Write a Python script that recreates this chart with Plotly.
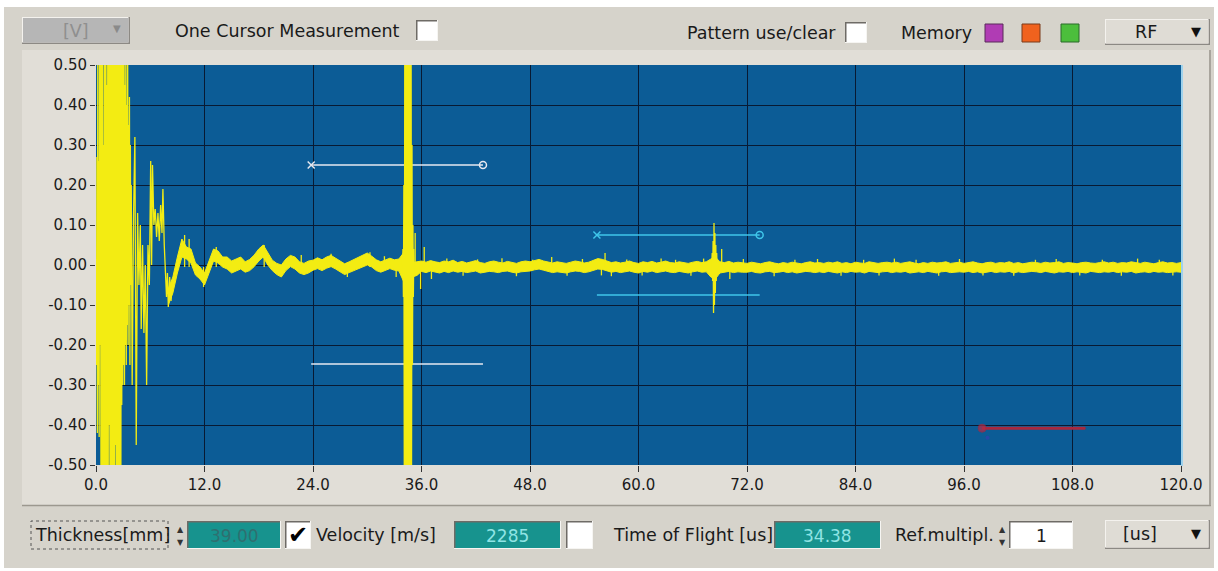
import plotly.graph_objects as go

W, H = 1218, 571
ML, MR, MT, MB = 96, 37, 65, 106

# ---------------- axis ticks ----------------
x_tick_vals = [0, 12, 24, 36, 48, 60, 72, 84, 96, 108, 120]
x_tick_text = ["0.0", "12.0", "24.0", "36.0", "48.0", "60.0", "72.0", "84.0", "96.0", "108.0", "120.0"]
y_tick_vals = [0.5, 0.4, 0.3, 0.2, 0.1, 0.0, -0.1, -0.2, -0.3, -0.4, -0.5]
y_tick_text = ["0.50", "0.40", "0.30", "0.20", "0.10", "0.00", "-0.10", "-0.20", "-0.30", "-0.40", "-0.50"]

# ---------------- waveform ----------------
# initial burst, samples every 0.05 us from 0
burst_start, burst_step = 0.0, 0.05
burst_y = [0.0, -0.25, 0.27, -0.42, 0.6, -0.3, 0.26, -0.43, 0.6, -0.2,
           0.6, -0.6, 0.5, -0.6, 0.6, -0.6, 0.3, -0.6, 0.6, -0.5,
           0.6, -0.6, 0.6, -0.6, 0.45, -0.6, 0.6, -0.6, 0.6, -0.4,
           0.6, -0.6, 0.6, -0.6, 0.5, -0.6, 0.6, -0.55, 0.6, -0.6,
           0.6, -0.6, 0.6, -0.45, 0.6, -0.6, 0.6, -0.6, 0.55, -0.6,
           0.6, -0.6, 0.6, -0.5, 0.6, -0.6, 0.6, -0.35, 0.6, -0.3,
           0.6, -0.25, 0.6, -0.3, 0.45, -0.2, 0.6, -0.25, 0.4, -0.15,
           0.6, -0.2, 0.35, -0.1, 0.42, -0.25, 0.3, -0.05, 0.2, -0.1]
# ringing after the burst
tail_x = [4.0, 4.15, 4.3, 4.45, 4.6, 4.75, 4.9, 5.0, 5.15, 5.3, 5.45, 5.6, 5.75, 5.9, 6.05, 6.15,
          6.25, 6.4, 6.55, 6.7, 6.85, 7.0, 7.15, 7.3, 7.4, 7.55, 7.7, 7.8, 7.9, 8.0, 8.15, 8.3, 8.45]
tail_y = [-0.30, 0.12, 0.32, -0.45, 0.13, -0.05, 0.10, -0.16, 0.05, -0.17, 0.0, -0.30, 0.05, -0.05, 0.26, 0.0,
          0.25, 0.10, 0.14, 0.07, 0.13, 0.06, 0.15, 0.08, 0.19, 0.05, -0.02, -0.08, -0.02, -0.105, -0.03, -0.09, -0.04]
# first back-wall echo
echo1_start, echo1_step = 33.9, 0.05
echo1_y = [0.0, 0.04, -0.08, 0.2, -0.6, 0.6, -0.6, 0.6, -0.6, 0.6, -0.6, 0.6, -0.6, 0.6,
           -0.6, 0.6, -0.6, 0.6, -0.6, 0.6, -0.5, 0.3, -0.25, 0.1, -0.08, 0.04, -0.02]
# second echo
echo2_start, echo2_step = 68.1, 0.05
echo2_y = [0.0, 0.03, -0.04, 0.06, -0.12, 0.105, -0.1, 0.08, -0.07, 0.05, -0.04, 0.03, -0.02, 0.01]
# small noise spikes
spike_x = [9.8, 10.3, 11.9, 13.3, 18.6, 22.7, 26.0, 27.8, 30.3, 31.9, 33.2, 35.3, 35.9, 36.3, 37.1,
           38.8, 40.6, 42.2, 44.9, 46.5, 48.3, 50.4, 52.1, 53.8, 55.9, 56.3, 57.0, 58.7, 60.4, 62.5,
           64.1, 65.8, 67.2, 69.2, 70.1, 71.6, 75.0, 77.3, 79.8, 82.4, 84.9, 86.6, 88.3, 90.7, 93.2,
           95.5, 98.1, 101.5, 103.9, 106.2, 108.8, 111.3, 113.4, 115.2, 117.6, 119.1]
spike_y = [0.075, 0.065, -0.055, 0.045, 0.05, 0.025, 0.028, -0.03, 0.032, 0.022, -0.03, 0.08, -0.06, 0.045, -0.035,
           0.016, -0.027, 0.014, 0.017, -0.028, 0.013, 0.02, -0.027, 0.015, -0.026, 0.03, -0.028, 0.014, -0.026, 0.016,
           0.013, -0.027, 0.016, 0.04, -0.035, 0.015, -0.028, 0.013, 0.015, -0.027, 0.013, -0.026, 0.016, 0.013, -0.027,
           0.015, -0.026, -0.027, 0.013, 0.015, -0.026, 0.013, -0.027, 0.016, 0.013, -0.026]

# noise band envelope, samples every 0.5 us from 8
band_start, band_step = 8.0, 0.5
band_upper = [
    -0.06, -0.03, 0.02, 0.065, 0.045, 0.04, 0.005, -0.005, -0.02, 0.01, 0.04, 0.035, 0.02, 0.02, 0.01, 0.015,
    0.02, 0.008, 0.014, 0.025, 0.04, 0.05, 0.03, 0.012, 0.004, 0.0, 0.015, 0.024, 0.02, 0.008, 0.004, 0.01,
    0.012, 0.018, 0.013, 0.02, 0.024, 0.017, 0.008, 0.003, 0.008, 0.013, 0.019, 0.024, 0.03, 0.022, 0.013, 0.008,
    0.012, 0.017, 0.013, 0.015, 0.03, 0.04, 0.006, 0.008, 0.01, 0.007, 0.011, 0.008, 0.006, 0.01, 0.008, 0.012,
    0.006, 0.009, 0.005, 0.008, 0.011, 0.006, 0.004, 0.008, 0.01, 0.007, 0.005, 0.009, 0.006, 0.004, 0.008, 0.01,
    0.008, 0.011, 0.014, 0.01, 0.007, 0.005, 0.008, 0.006, 0.004, 0.007, 0.01, 0.008, 0.005, 0.007, 0.011, 0.016,
    0.014, 0.009, 0.006, 0.008, 0.005, 0.007, 0.01, 0.006, 0.004, 0.008, 0.006, 0.009, 0.005, 0.007, 0.01, 0.006,
    0.005, 0.008, 0.006, 0.004, 0.007, 0.009, 0.006, 0.008, 0.015, 0.02, 0.008, 0.006, 0.009, 0.005, 0.007, 0.006,
    0.004, 0.007, 0.005, 0.003, 0.006, 0.008, 0.005, 0.003, 0.006, 0.004, 0.007, 0.005, 0.003, 0.006, 0.008, 0.005,
    0.006, 0.004, 0.007, 0.005, 0.008, 0.004, 0.006, 0.003, 0.007, 0.005, 0.004, 0.008, 0.006, 0.004, 0.006, 0.007,
    0.005, 0.007, 0.004, 0.006, 0.008, 0.005, 0.003, 0.006, 0.004, 0.007, 0.005, 0.006, 0.008, 0.004, 0.005, 0.007,
    0.004, 0.006, 0.008, 0.005, 0.003, 0.006, 0.007, 0.004, 0.006, 0.005, 0.008, 0.004, 0.006, 0.003, 0.005, 0.007,
    0.006, 0.004, 0.007, 0.005, 0.006, 0.008, 0.004, 0.006, 0.005, 0.003, 0.006, 0.007, 0.005, 0.004, 0.006, 0.008,
    0.005, 0.007, 0.004, 0.006, 0.005, 0.008, 0.006, 0.004, 0.007, 0.005, 0.003, 0.006, 0.008, 0.005, 0.006, 0.004,
    0.006]
band_lower = [
    -0.1, -0.07, -0.02, 0.02, 0.015, 0.005, -0.025, -0.035, -0.05, -0.02, 0.01, 0.005, -0.005, -0.01, -0.02, -0.015,
    -0.01, -0.018, -0.014, -0.004, 0.01, 0.02, 0.0, -0.014, -0.024, -0.03, -0.014, -0.004, -0.01, -0.02, -0.024, -0.02,
    -0.013, -0.009, -0.014, -0.008, -0.004, -0.01, -0.018, -0.024, -0.019, -0.014, -0.009, -0.004, 0.0, -0.005, -0.014, -0.018,
    -0.013, -0.009, -0.013, -0.015, -0.04, -0.05, -0.03, -0.026, -0.016, -0.019, -0.015, -0.018, -0.02, -0.016, -0.019, -0.015,
    -0.018, -0.016, -0.019, -0.017, -0.015, -0.02, -0.018, -0.016, -0.017, -0.019, -0.016, -0.015, -0.018, -0.02, -0.017, -0.016,
    -0.015, -0.012, -0.01, -0.013, -0.016, -0.019, -0.017, -0.018, -0.02, -0.017, -0.015, -0.016, -0.019, -0.017, -0.013, -0.01,
    -0.011, -0.015, -0.018, -0.016, -0.019, -0.017, -0.015, -0.018, -0.02, -0.016, -0.018, -0.015, -0.019, -0.017, -0.015, -0.018,
    -0.019, -0.016, -0.018, -0.02, -0.017, -0.015, -0.018, -0.017, -0.03, -0.035, -0.02, -0.018, -0.016, -0.019, -0.017, -0.018,
    -0.018, -0.016, -0.019, -0.02, -0.017, -0.016, -0.019, -0.018, -0.016, -0.019, -0.017, -0.02, -0.018, -0.016, -0.017, -0.019,
    -0.017, -0.019, -0.016, -0.018, -0.02, -0.017, -0.019, -0.016, -0.018, -0.017, -0.02, -0.016, -0.018, -0.019, -0.017, -0.016,
    -0.019, -0.017, -0.018, -0.016, -0.02, -0.018, -0.017, -0.019, -0.016, -0.018, -0.02, -0.017, -0.016, -0.019, -0.018, -0.017,
    -0.018, -0.016, -0.019, -0.017, -0.02, -0.018, -0.016, -0.019, -0.017, -0.018, -0.016, -0.02, -0.017, -0.019, -0.018, -0.016,
    -0.017, -0.019, -0.016, -0.018, -0.02, -0.017, -0.018, -0.016, -0.019, -0.017, -0.018, -0.02, -0.016, -0.018, -0.019, -0.017,
    -0.018, -0.016, -0.019, -0.017, -0.018, -0.016, -0.02, -0.018, -0.017, -0.019, -0.016, -0.018, -0.017, -0.019, -0.018, -0.017,
    -0.018]

# ---------------- cursors ----------------
cursor1_x = [23.8, 42.8]
cursor1_top, cursor1_bottom = 0.25, -0.2475
cursor2_x = [55.4, 73.4]
cursor2_top, cursor2_bottom = 0.075, -0.075
ref_x = [98.0, 109.4]
ref_y = -0.408
ref_dot = (98.6, -0.432)

# ---------------- UI texts ----------------
thickness_val = "39.00"
velocity_val = "2285"
tof_val = "34.38"
refmult_val = "1"

# ---------------- colours ----------------
YEL = "#f3ec12"
BLUE = "#0c5c96"
GRID = "#081a33"
WIN = "#d6d3cb"
PANEL = "#e1ded7"
TEAL = "#17938e"
TXT = "#1a1a1a"
FONT = "DejaVu Sans"

fig = go.Figure()

# cursors (drawn under the signal)
fig.add_trace(go.Scatter(x=cursor1_x, y=[cursor1_top] * 2, mode="lines+markers",
                         line=dict(color="#e6e8f0", width=1.5),
                         marker=dict(symbol=["x-thin-open", "circle-open"], size=7,
                                     color="#e6e8f0", line=dict(width=1.5, color="#e6e8f0")),
                         hoverinfo="skip"))
fig.add_trace(go.Scatter(x=cursor1_x, y=[cursor1_bottom] * 2, mode="lines",
                         line=dict(color="#e6e8f0", width=1.5), hoverinfo="skip"))
fig.add_trace(go.Scatter(x=cursor2_x, y=[cursor2_top] * 2, mode="lines+markers",
                         line=dict(color="#3fc6ea", width=1.5),
                         marker=dict(symbol=["x-thin-open", "circle-open"], size=7,
                                     color="#3fc6ea", line=dict(width=1.5, color="#3fc6ea")),
                         hoverinfo="skip"))
fig.add_trace(go.Scatter(x=cursor2_x, y=[cursor2_bottom] * 2, mode="lines",
                         line=dict(color="#3fc6ea", width=1.5), hoverinfo="skip"))
fig.add_trace(go.Scatter(x=ref_x, y=[ref_y] * 2, mode="lines+markers",
                         line=dict(color="#a8283e", width=3),
                         marker=dict(symbol=["circle", "circle"], size=[8, 1], color="#b82a44"),
                         hoverinfo="skip"))
fig.add_trace(go.Scatter(x=[ref_dot[0]], y=[ref_dot[1]], mode="markers",
                         marker=dict(size=4, color="#2848a8"), hoverinfo="skip"))

# noise band
band_x = [band_start + band_step * i for i in range(len(band_upper))]
fig.add_trace(go.Scatter(x=band_x, y=band_lower, mode="lines",
                         line=dict(color=YEL, width=1), hoverinfo="skip"))
fig.add_trace(go.Scatter(x=band_x, y=band_upper, mode="lines", fill="tonexty", fillcolor=YEL,
                         line=dict(color=YEL, width=1), hoverinfo="skip"))

# signal line pieces
sx, sy = [], []
sx += [burst_start + burst_step * i for i in range(len(burst_y))]
sy += burst_y
sx += tail_x
sy += tail_y
sx.append(None); sy.append(None)
sx += [echo1_start + echo1_step * i for i in range(len(echo1_y))]
sy += echo1_y
sx.append(None); sy.append(None)
sx += [echo2_start + echo2_step * i for i in range(len(echo2_y))]
sy += echo2_y
for xv, yv in zip(spike_x, spike_y):
    sx += [None, xv, xv]
    sy += [None, -0.005, yv]
fig.add_trace(go.Scatter(x=sx, y=sy, mode="lines", line=dict(color=YEL, width=1.3),
                         connectgaps=False, hoverinfo="skip"))

# ---------------- UI chrome (pixel -> paper) ----------------
PW = W - ML - MR
PH = H - MT - MB


def px(x):
    return (x - ML) / PW


def py(y):
    return (H - MB - y) / PH


shapes = []
annots = []


def rect(x0, y0, x1, y1, fill, line=None, lw=0, dash="solid"):
    shapes.append(dict(type="rect", xref="paper", yref="paper", layer="below",
                       x0=px(x0), x1=px(x1), y0=py(y1), y1=py(y0), fillcolor=fill,
                       line=dict(color=line if line else fill, width=lw, dash=dash)))


def seg(x0, y0, x1, y1, color, w=1):
    shapes.append(dict(type="line", xref="paper", yref="paper", layer="below",
                       x0=px(x0), x1=px(x1), y0=py(y0), y1=py(y1),
                       line=dict(color=color, width=w)))


def text(x, y, s, size=17.5, color=TXT, anchor="left"):
    annots.append(dict(xref="paper", yref="paper", x=px(x), y=py(y), text=s, showarrow=False,
                       xanchor=anchor, yanchor="middle",
                       font=dict(family=FONT, size=size, color=color)))


def button(x0, y0, x1, y1, fill):
    rect(x0, y0, x1, y1, "#8c8984")
    rect(x0, y0, x1 - 1.5, y1 - 1.5, "#f4f2ee")
    rect(x0 + 1, y0 + 1, x1 - 1.5, y1 - 1.5, fill)


def sunken(x0, y0, x1, y1, fill):
    rect(x0, y0, x1, y1, "#f6f5f2")
    rect(x0, y0, x1 - 1, y1 - 1, "#6e6b66")
    rect(x0 + 1.5, y0 + 1.5, x1 - 1, y1 - 1, fill)


# window + white frame
rect(4, 7, 1214, 568, WIN)
# graph panel
rect(22, 50, 1211, 505, PANEL)
seg(22, 505.5, 1211, 505.5, "#9c988f", 1.5)
seg(1210, 50, 1210, 505, "#a9a59d", 2)
# plot area
rect(96, 65, 1181, 465, BLUE)
seg(1182, 65, 1182, 466, "#9fd2ec", 2)

# top toolbar
button(22, 17, 130, 44, "#b6b6b6")
text(76, 31, "[V]", 17.5, "#8f8f8f", "center")
text(117, 29, "▼", 10, "#8a8a8a", "center")
text(173, 31, "One Cursor Measurement", 17.5)
sunken(416, 20, 438, 41, "#ffffff")
text(685, 33, "Pattern use/clear", 17.5)
sunken(845, 22, 867, 43, "#ffffff")
text(899, 33, "Memory", 17.5)
rect(985, 24, 1003, 42, "#b03cb4", "#5a2a5a", 1)
rect(1022, 24, 1040, 42, "#f0621e", "#7a3a1a", 1)
rect(1061, 24, 1079, 42, "#4cbe3c", "#2a6a2a", 1)
button(1105, 19, 1210, 45, "#dfdcd5")
text(1146, 32, "RF", 17.5, TXT, "center")
text(1196, 31, "▼", 13, "#111111", "center")

# bottom toolbar
rect(31, 521, 168, 549, "rgba(0,0,0,0)", "#555555", 1, "dot")
text(33, 535, "Thickness[mm]", 17.5)
text(180.5, 529, "▲", 8, "#333333", "center")
text(180.5, 542, "▼", 8, "#333333", "center")
sunken(187, 521, 281, 549, TEAL)
text(234, 536, thickness_val, 17, "#2f6f70", "center")
sunken(285, 521, 311, 549, "#ffffff")
text(298, 535, "✔", 24, "#000000", "center")
text(314, 535, "Velocity [m/s]", 17.5)
sunken(454, 521, 561, 549, TEAL)
text(507, 536, velocity_val, 17, "#8fe4e4", "center")
sunken(566, 521, 593, 549, "#ffffff")
text(611, 535, "Time of Flight [us]", 17.5)
sunken(774, 521, 881, 549, TEAL)
text(827, 536, tof_val, 17, "#8fe4e4", "center")
text(893, 535, "Ref.multipl.", 17.5)
text(1002, 529, "▲", 8, "#333333", "center")
text(1002, 542, "▼", 8, "#333333", "center")
sunken(1009, 521, 1073, 549, "#ffffff")
text(1041, 536, refmult_val, 17, TXT, "center")
button(1105, 520, 1210, 549, "#dfdcd5")
text(1140, 534, "[us]", 17.5, TXT, "center")
text(1196, 533, "▼", 13, "#111111", "center")

tickfont = dict(family=FONT, size=15, color=TXT)
fig.update_layout(
    width=W, height=H,
    margin=dict(l=ML, r=MR, t=MT, b=MB, pad=0),
    paper_bgcolor="#ffffff",
    plot_bgcolor=BLUE,
    showlegend=False,
    shapes=shapes,
    annotations=annots,
    xaxis=dict(range=[0, 120], tickmode="array", tickvals=x_tick_vals, ticktext=x_tick_text,
               showgrid=True, gridcolor=GRID, gridwidth=1.2, zeroline=False, showline=False,
               ticks="outside", ticklen=6, tickwidth=1, tickcolor="#333333", tickfont=tickfont,
               fixedrange=True),
    yaxis=dict(range=[-0.5, 0.5], tickmode="array", tickvals=y_tick_vals, ticktext=y_tick_text,
               showgrid=True, gridcolor=GRID, gridwidth=1.2, zeroline=False, showline=False,
               ticks="outside", ticklen=5, tickwidth=1, tickcolor="#333333", tickfont=tickfont,
               fixedrange=True),
)

fig.write_html("out.html", config={"displayModeBar": False},
               post_script="document.body.style.margin='0';document.body.style.overflow='hidden';")
